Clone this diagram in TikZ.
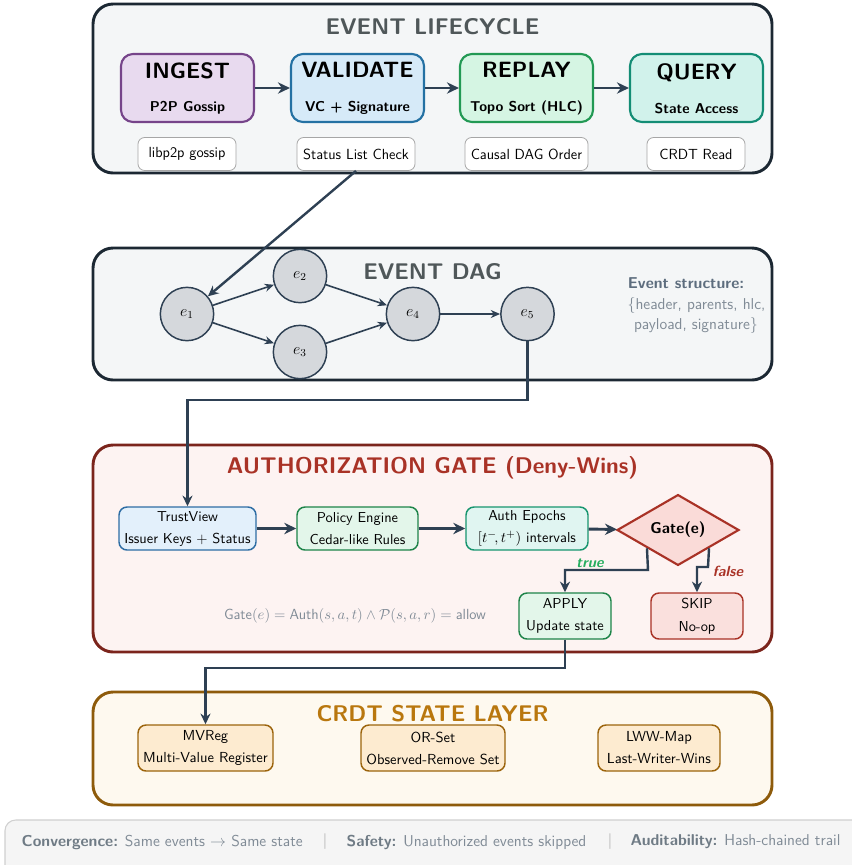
\documentclass[tikz,border=0pt]{standalone}
\usepackage{fontspec}
\renewcommand{\familydefault}{\sfdefault}
\usetikzlibrary{arrows.meta,shapes.geometric,calc}

\definecolor{panelfill}{HTML}{F4F6F7}
\definecolor{panelline}{HTML}{1C2833}
\definecolor{titlegray}{HTML}{4F5759}
\definecolor{ingestfill}{HTML}{E8DAEF}
\definecolor{ingestline}{HTML}{76448A}
\definecolor{valfill}{HTML}{D6EAF8}
\definecolor{valline}{HTML}{2471A3}
\definecolor{repfill}{HTML}{D5F5E3}
\definecolor{repline}{HTML}{229954}
\definecolor{qfill}{HTML}{D1F2EB}
\definecolor{qline}{HTML}{138D75}
\definecolor{arrowc}{HTML}{2E4053}
\definecolor{subgray}{HTML}{A6A6A6}
\definecolor{nodegray}{HTML}{D5D8DC}
\definecolor{esgray}{HTML}{808B96}
\definecolor{esbold}{HTML}{5D6D7E}
\definecolor{authfill}{HTML}{FDF3F2}
\definecolor{authline}{HTML}{7B241C}
\definecolor{authtitle}{HTML}{A93226}
\definecolor{tvfill}{HTML}{E3F0FB}
\definecolor{tvline}{HTML}{2E6DA4}
\definecolor{pefill}{HTML}{E3F6EA}
\definecolor{peline}{HTML}{1E8449}
\definecolor{aefill}{HTML}{E0F5F1}
\definecolor{aeline}{HTML}{17956F}
\definecolor{gatefill}{HTML}{FADBD8}
\definecolor{gateline}{HTML}{A93226}
\definecolor{skipfill}{HTML}{FAE0DD}
\definecolor{crdtfill}{HTML}{FEF9EF}
\definecolor{crdtline}{HTML}{8E5B0B}
\definecolor{crdttitle}{HTML}{B9770E}
\definecolor{itemfill}{HTML}{FDEBD0}
\definecolor{itemline}{HTML}{9C640C}
\definecolor{footfill}{HTML}{F5F5F5}
\definecolor{footline}{HTML}{D0D0D0}
\definecolor{footsep}{HTML}{A0A0A0}
\definecolor{footbold}{HTML}{6F7B85}
\definecolor{truegreen}{HTML}{27AE60}

\tikzset{
  panel/.style={line width=2.2pt, rounded corners=15pt},
  paneltitle/.style={font=\sffamily\fontsize{17}{20}\selectfont\bfseries},
  stage/.style={rectangle, rounded corners=9pt, line width=1.6pt,
    minimum width=99.75pt, minimum height=51pt, inner sep=0pt},
  stagetitle/.style={anchor=base, font=\sffamily\fontsize{16.6}{19}\selectfont\bfseries},
  stagesub/.style={anchor=base, font=\sffamily\fontsize{10.7}{13}\selectfont\bfseries},
  subbox/.style={rectangle, rounded corners=5pt, draw=subgray, fill=white,
    line width=0.6pt, minimum height=24.75pt, inner sep=0pt,
    font=\sffamily\fontsize{11}{13}\selectfont},
  flow/.style={-{Stealth[length=9pt,width=8.5pt]}, line width=2.2pt, draw=arrowc},
  link/.style={-{Stealth[length=8pt,width=7.5pt]}, line width=1.8pt, draw=arrowc},
  dagedge/.style={-{Stealth[length=7pt,width=6pt]}, line width=1.2pt, draw=arrowc},
  evt/.style={circle, minimum size=40pt, inner sep=0pt, fill=nodegray,
    draw=arrowc, line width=1.1pt, font=\fontsize{12}{14}\selectfont},
  gatebox/.style={rectangle, rounded corners=6pt, line width=1.1pt,
    minimum height=32.25pt, inner sep=0pt, align=center,
    font=\sffamily\fontsize{10.8}{13}\selectfont},
  itembox/.style={rectangle, rounded corners=6pt, line width=1.1pt,
    fill=itemfill, draw=itemline, minimum height=34.5pt, inner sep=0pt,
    align=center, font=\sffamily\fontsize{10.9}{13}\selectfont},
  branch/.style={font=\sffamily\fontsize{11}{13}\selectfont\bfseries\itshape},
  evtext/.style={anchor=base, text=esgray, font=\sffamily\fontsize{11.8}{14}\selectfont},
  foot/.style={anchor=west, text=esgray, font=\sffamily\fontsize{11.8}{14}\selectfont},
  footbar/.style={text=footsep, font=\sffamily\fontsize{11.8}{14}\selectfont},
}

\begin{document}
\begin{tikzpicture}[x=0.75pt, y=-0.75pt, font=\sffamily]
\useasboundingbox (0,0) rectangle (852,865);

% ---------- Event lifecycle ----------
\draw[panel, fill=panelfill, draw=panelline] (93,4) rectangle (772,173);
\node[paneltitle, text=titlegray] (lifetitle) at (432.5,27) {EVENT LIFECYCLE};

\node[stage, fill=ingestfill, draw=ingestline] (ingest)   at (187.5,88) {};
\node[stage, fill=valfill,    draw=valline]    (validate) at (357.5,88) {};
\node[stage, fill=repfill,    draw=repline]    (replay)   at (526.5,88) {};
\node[stage, fill=qfill,      draw=qline]      (query)    at (696.5,88) {};

\node[stagetitle] (ingestT)   at (187.5,78) {INGEST};
\node[stagetitle] (validateT) at (357.5,77) {VALIDATE};
\node[stagetitle] (replayT)   at (526.5,77) {REPLAY};
\node[stagetitle] (queryT)    at (696.5,79) {QUERY};
\node[stagesub] (ingestS)   at (187.5,111) {P2P Gossip};
\node[stagesub] (validateS) at (357.5,111) {VC + Signature};
\node[stagesub] (replayS)   at (526.5,111) {Topo Sort (HLC)};
\node[stagesub] (queryS)    at (696.5,113) {State Access};

\draw[flow] (ingest) -- (validate);
\draw[flow] (validate) -- (replay);
\draw[flow] (replay) -- (query);

\node[subbox, minimum width=73.5pt] (gossip)     at (187,154)   {libp2p gossip};
\node[subbox, minimum width=88.5pt] (statuslist) at (356,154)   {Status List Check};
\node[subbox, minimum width=92.25pt] (causal)    at (526.5,154) {Causal DAG Order};
\node[subbox, minimum width=73.5pt] (crdtread)   at (696,154)   {CRDT Read};

% ---------- Event DAG ----------
\draw[panel, fill=panelfill, draw=panelline] (93,248) rectangle (772,380);
\node[paneltitle, text=titlegray] (dagtitle) at (432.5,272) {EVENT DAG};

\node[evt] (e1) at (187,314) {$e_1$};
\node[evt] (e2) at (300,276) {$e_2$};
\node[evt] (e3) at (300,352) {$e_3$};
\node[evt] (e4) at (413,314) {$e_4$};
\node[evt] (e5) at (527.5,314) {$e_5$};

\draw[dagedge] (e1) -- (e2);
\draw[dagedge] (e1) -- (e3);
\draw[dagedge] (e2) -- (e4);
\draw[dagedge] (e3) -- (e4);
\draw[dagedge] (e4) -- (e5);

\node[evtext, text=esbold, font=\sffamily\fontsize{11.8}{14}\selectfont\bfseries] (evhead) at (686,288) {Event structure:};
\node[evtext] (evline1) at (696.5,309) {$\{$header, parents, hlc,};
\node[evtext] (evline2) at (696,329) {payload, signature$\}$};

\draw[link] (statuslist.south) -- (e1);

% ---------- Authorization gate ----------
\draw[panel, fill=authfill, draw=authline] (93,445) rectangle (772,652);
\node[paneltitle, text=authtitle] (authtitleN) at (432.5,468) {AUTHORIZATION GATE (Deny-Wins)};

\node[gatebox, fill=tvfill, draw=tvline, minimum width=102.75pt] (trustview) at (187.5,528.5)
  {TrustView\\[3.5pt]Issuer Keys + Status};
\node[gatebox, fill=pefill, draw=peline, minimum width=90.75pt] (policy) at (357.5,528.5)
  {Policy Engine\\[3.5pt]Cedar-like Rules};
\node[gatebox, fill=aefill, draw=aeline, minimum width=91.5pt] (epochs) at (527,528.5)
  {Auth Epochs\\[3.5pt]$[t^-\!,t^+)$ intervals};
\node[diamond, fill=gatefill, draw=gateline, line width=1.6pt, minimum width=91.5pt,
  minimum height=45pt, inner sep=0pt, font=\sffamily\fontsize{11.7}{14}\selectfont\bfseries]
  (gate) at (678,530) {Gate(e)};

\node[gatebox, fill=pefill, draw=peline, minimum width=69pt, minimum height=34.5pt] (apply) at (565,616)
  {APPLY\\[4pt]Update state};
\node[gatebox, fill=skipfill, draw=gateline, minimum width=69pt, minimum height=34.5pt] (skip) at (697,616)
  {SKIP\\[4pt]No-op};

\draw[flow] (trustview) -- (policy);
\draw[flow] (policy) -- (epochs);
\draw[flow] (epochs) -- (gate);

\coordinate (truebend) at (648,570);
\coordinate (falsebend) at (708,567);
\draw[link] (gate.south west) -- (truebend) -| (apply.north);
\draw[link] (gate.south east) -- (falsebend) -| (skip.north);
\node[branch, text=truegreen] (truelbl) at (590,563) {true};
\node[branch, text=gateline] (falselbl) at (728,571) {false};

\node[text=esgray, font=\sffamily\fontsize{11}{13}\selectfont] (formula) at (355,616)
  {Gate$(e)=\mbox{\sffamily Auth}(s,a,t)\wedge\mathcal{P}(s,a,r)=\mbox{\sffamily allow}$};

\coordinate (e5bend) at (527.5,400);
\draw[link] (e5.south) -- (e5bend) -| (trustview.north);

% ---------- CRDT state layer ----------
\draw[panel, fill=crdtfill, draw=crdtline] (93,692) rectangle (772,805);
\node[paneltitle, text=crdttitle] (crdttitleN) at (432.5,714) {CRDT STATE LAYER};

\node[itembox, minimum width=101.25pt] (mvreg) at (205.5,748) {MVReg\\[3.5pt]Multi-Value Register};
\node[itembox, minimum width=108pt]    (orset) at (433,748)   {OR-Set\\[3.5pt]Observed-Remove Set};
\node[itembox, minimum width=91.5pt]   (lww)   at (659,748)   {LWW-Map\\[3.5pt]Last-Writer-Wins};

\coordinate (applybend) at (565,668);
\draw[link] (apply.south) -- (applybend) -| (mvreg.north);

% ---------- Footer ----------
\draw[fill=footfill, draw=footline, line width=0.8pt, rounded corners=8pt] (5,820) rectangle (880,890);
\node[foot] (conv) at (17,842) {\textcolor{footbold}{\bfseries Convergence:} Same events $\rightarrow$ Same state};
\node[footbar] (sep1) at (325,842) {|};
\node[foot] (safety) at (342,842) {\textcolor{footbold}{\bfseries Safety:} Unauthorized events skipped};
\node[footbar] (sep2) at (610,842) {|};
\node[foot] (audit) at (626,842) {\textcolor{footbold}{\bfseries Auditability:} Hash-chained trail};
\end{tikzpicture}
\end{document}
